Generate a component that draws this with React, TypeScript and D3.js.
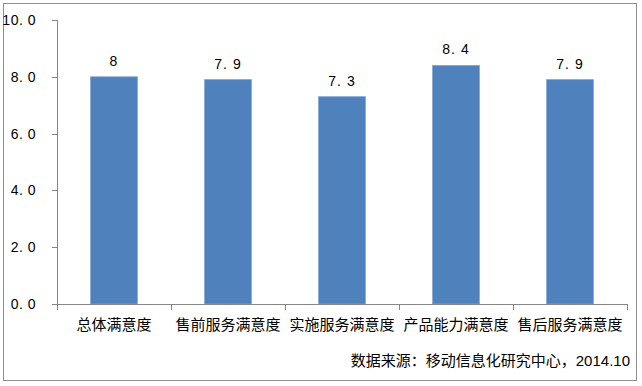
import React, { useEffect, useRef } from 'react';
import * as d3 from 'd3';

const categories = ['总体满意度', '售前服务满意度', '实施服务满意度', '产品能力满意度', '售后服务满意度'];
const scores = [8, 7.9, 7.3, 8.4, 7.9];
const scoreLabels = ['8', '7.9', '7.3', '8.4', '7.9'];
const yTicks = [0, 2, 4, 6, 8, 10];
const sourceNote = '数据来源：移动信息化研究中心，2014.10';

export default function App() {
  const ref = useRef<SVGSVGElement>(null);

  useEffect(() => {
    const svg = d3.select(ref.current);
    svg.selectAll('*').remove();

    const width = 642, height = 386;
    const left = 57, right = 627, top = 20, bottom = 304;
    const font = '"Liberation Sans", "Noto Sans CJK SC", Arial, sans-serif';

    // outer frame
    svg.append('rect')
      .attr('x', 3.5).attr('y', 3.5)
      .attr('width', 633).attr('height', 377)
      .attr('fill', '#fff')
      .attr('stroke', '#8c8c8c');

    const x = d3.scaleBand<string>()
      .domain(categories)
      .range([left, right])
      .paddingInner(0.59)
      .paddingOuter(0.295);

    const y = d3.scaleLinear().domain([0, 10]).range([bottom, top]);

    // bars
    svg.append('g')
      .selectAll('rect')
      .data(scores)
      .enter()
      .append('rect')
      .attr('x', (d, i) => x(categories[i])!)
      .attr('y', d => y(d))
      .attr('width', x.bandwidth())
      .attr('height', d => bottom - y(d))
      .attr('fill', '#4f81bd')
      .attr('stroke', '#7fa3d1')
      .attr('stroke-width', 0.8);

    // value labels
    svg.append('g')
      .selectAll('text')
      .data(scores)
      .enter()
      .append('text')
      .attr('x', (d, i) => x(categories[i])! + x.bandwidth() / 2)
      .attr('y', d => y(d) - 11)
      .attr('text-anchor', 'middle')
      .attr('font-family', font)
      .attr('font-size', 14)
      .attr('letter-spacing', 1)
      .attr('fill', '#000')
      .text((d, i) => scoreLabels[i].replace('.', '. '));

    // y axis
    const axisColor = '#868686';
    svg.append('line')
      .attr('x1', left + 0.5).attr('x2', left + 0.5)
      .attr('y1', top).attr('y2', bottom)
      .attr('stroke', axisColor);

    const yt = svg.append('g');
    yt.selectAll('line')
      .data(yTicks)
      .enter()
      .append('line')
      .attr('x1', left - 5).attr('x2', left)
      .attr('y1', d => Math.round(y(d)) + 0.5)
      .attr('y2', d => Math.round(y(d)) + 0.5)
      .attr('stroke', axisColor);
    yt.selectAll('text')
      .data(yTicks)
      .enter()
      .append('text')
      .attr('x', 36)
      .attr('y', d => y(d) + 5)
      .attr('text-anchor', 'end')
      .attr('font-family', font)
      .attr('font-size', 14)
      .attr('letter-spacing', 0.5)
      .attr('fill', '#000')
      .text(d => d.toFixed(1).replace('.', '. '));

    // x axis
    svg.append('line')
      .attr('x1', left).attr('x2', right)
      .attr('y1', bottom + 0.5).attr('y2', bottom + 0.5)
      .attr('stroke', axisColor);

    const step = x.step();
    const bounds = d3.range(categories.length + 1).map(i => left + i * step);
    svg.append('g')
      .selectAll('line')
      .data(bounds)
      .enter()
      .append('line')
      .attr('x1', d => Math.round(d) + 0.5).attr('x2', d => Math.round(d) + 0.5)
      .attr('y1', bottom).attr('y2', bottom + 6)
      .attr('stroke', axisColor);

    svg.append('g')
      .selectAll('text')
      .data(categories)
      .enter()
      .append('text')
      .attr('x', d => x(d)! + x.bandwidth() / 2)
      .attr('y', 330)
      .attr('text-anchor', 'middle')
      .attr('font-family', font)
      .attr('font-size', 15)
      .attr('fill', '#000')
      .text(d => d);

    svg.append('text')
      .attr('x', 630)
      .attr('y', 366)
      .attr('text-anchor', 'end')
      .attr('font-family', font)
      .attr('font-size', 15)
      .attr('fill', '#000')
      .text(sourceNote);

    svg.attr('width', width).attr('height', height);
  }, []);

  return (
    <div style={{ position: 'absolute', left: 0, top: 0 }}>
      <svg ref={ref} width={642} height={386} style={{ display: 'block' }}></svg>
    </div>
  );
}
